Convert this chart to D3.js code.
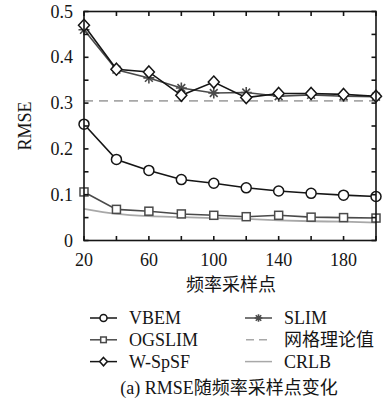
<!DOCTYPE html>
<html>
<head>
<meta charset="utf-8">
<script src="https://cdn.jsdelivr.net/npm/d3@7/dist/d3.min.js"></script>
<style>
  html, body { margin: 0; padding: 0; background: #fff; }
  svg { display: block; }
  .lat { font-family: "Liberation Serif", "DejaVu Serif", serif; }
  .cjk { font-family: "Noto Sans CJK SC", sans-serif; }
</style>
</head>
<body>
<script>
// Sample counts on the x axis
const samples = [20, 40, 60, 80, 100, 120, 140, 160, 180, 200];
const xTickValues = [20, 40, 60, 80, 100, 120, 140, 160, 180, 200];
const xTickLabels = [20, 60, 100, 140, 180];
const yTickValues = [0, 0.05, 0.1, 0.15, 0.2, 0.25, 0.3, 0.35, 0.4, 0.45, 0.5];
const yTickLabels = [0, 0.1, 0.2, 0.3, 0.4, 0.5];

// RMSE per method
const vbem   = [0.254, 0.177, 0.153, 0.133, 0.125, 0.115, 0.108, 0.103, 0.099, 0.096];
const ogslim = [0.106, 0.068, 0.064, 0.058, 0.055, 0.052, 0.055, 0.051, 0.050, 0.049];
const wspsf  = [0.470, 0.374, 0.368, 0.317, 0.346, 0.312, 0.321, 0.321, 0.319, 0.315];
const slim   = [0.460, 0.373, 0.355, 0.333, 0.322, 0.323, 0.315, 0.318, 0.315, 0.314];
const gridTheory = 0.305;
const crlb   = [0.069, 0.058, 0.053, 0.051, 0.049, 0.047, 0.044, 0.042, 0.041, 0.039];

const W = 385, H = 405;
const svg = d3.select("body").append("svg").attr("width", W).attr("height", H);

const pLeft = 84, pRight = 376, pTop = 11.5, pBottom = 240.5;
const x = d3.scaleLinear().domain([20, 200]).range([pLeft, pRight]);
const y = d3.scaleLinear().domain([0, 0.5]).range([pBottom, pTop]);

const black = "#151515";
const dark = "#4a4a4a";
const light = "#a8a8a8";

// Reference lines first (underneath)
svg.append("line")
  .attr("x1", x(20)).attr("x2", x(200))
  .attr("y1", y(gridTheory)).attr("y2", y(gridTheory))
  .attr("stroke", light).attr("stroke-width", 1.8)
  .attr("stroke-dasharray", "9,6");

const line = d3.line().x((d, i) => x(samples[i])).y(d => y(d));

svg.append("path").datum(crlb)
  .attr("d", d3.line().curve(d3.curveMonotoneX).x((d, i) => x(samples[i])).y(d => y(d)))
  .attr("fill", "none").attr("stroke", light).attr("stroke-width", 1.8);

// Marker drawing helper; s scales the marker size
function marker(g, type, cx, cy, color, s = 1) {
  if (type === "circle") {
    g.append("circle").attr("cx", cx).attr("cy", cy).attr("r", 5 * s)
      .attr("fill", "#fff").attr("stroke", color).attr("stroke-width", 1.5);
  } else if (type === "square") {
    g.append("rect").attr("x", cx - 4 * s).attr("y", cy - 4 * s).attr("width", 8 * s).attr("height", 8 * s)
      .attr("fill", "#fff").attr("stroke", color).attr("stroke-width", 1.5);
  } else if (type === "diamond") {
    g.append("path")
      .attr("d", `M${cx},${cy - 6 * s}L${cx + 5.5 * s},${cy}L${cx},${cy + 6 * s}L${cx - 5.5 * s},${cy}Z`)
      .attr("fill", "#fff").attr("stroke", color).attr("stroke-width", 1.5);
  } else if (type === "star") {
    const r = 5.5 * s;
    let d = "";
    for (let k = 0; k < 4; k++) {
      const a = k * Math.PI / 4;
      d += `M${cx - r * Math.cos(a)},${cy - r * Math.sin(a)}L${cx + r * Math.cos(a)},${cy + r * Math.sin(a)}`;
    }
    g.append("path").attr("d", d).attr("stroke", color).attr("stroke-width", 1.6).attr("fill", "none");
  }
}

const series = [
  { name: "OGSLIM", data: ogslim, color: dark, type: "square" },
  { name: "VBEM", data: vbem, color: black, type: "circle" },
  { name: "SLIM", data: slim, color: dark, type: "star" },
  { name: "W-SpSF", data: wspsf, color: black, type: "diamond" }
];

series.forEach(s => {
  const g = svg.append("g");
  g.append("path").datum(s.data).attr("d", line)
    .attr("fill", "none").attr("stroke", s.color).attr("stroke-width", 1.6);
  s.data.forEach((v, i) => marker(g, s.type, x(samples[i]), y(v), s.color));
});

// Frame and inward ticks on all four sides
const frame = svg.append("g").attr("stroke", black).attr("stroke-width", 1.6);
frame.append("rect").attr("x", pLeft).attr("y", pTop)
  .attr("width", pRight - pLeft).attr("height", pBottom - pTop).attr("fill", "none");
const tl = 4.5;
xTickValues.forEach(t => {
  frame.append("line").attr("x1", x(t)).attr("x2", x(t)).attr("y1", pBottom).attr("y2", pBottom - tl);
  frame.append("line").attr("x1", x(t)).attr("x2", x(t)).attr("y1", pTop).attr("y2", pTop + tl);
});
yTickValues.forEach(t => {
  frame.append("line").attr("x1", pLeft).attr("x2", pLeft + tl).attr("y1", y(t)).attr("y2", y(t));
  frame.append("line").attr("x1", pRight).attr("x2", pRight - tl).attr("y1", y(t)).attr("y2", y(t));
});

// Tick labels
svg.append("g").selectAll("text").data(xTickLabels).join("text")
  .attr("class", "lat").attr("x", d => x(d)).attr("y", 266)
  .attr("text-anchor", "middle").attr("font-size", 18).attr("fill", black).text(d => d);
svg.append("g").selectAll("text").data(yTickLabels).join("text")
  .attr("class", "lat").attr("x", 73).attr("y", d => y(d) + 6)
  .attr("text-anchor", "end").attr("font-size", 18).attr("fill", black).text(d => d);

// Axis titles
svg.append("text").attr("class", "cjk").attr("x", 231).attr("y", 291)
  .attr("text-anchor", "middle").attr("font-size", 18).attr("fill", black).text("频率采样点");
svg.append("text").attr("class", "lat")
  .attr("transform", `translate(31,${(pTop + pBottom) / 2}) rotate(-90)`)
  .attr("text-anchor", "middle").attr("font-size", 18).attr("fill", black).text("RMSE");

// Legend
const legendItems = [
  { name: "VBEM", color: black, type: "circle", col: 0, row: 0 },
  { name: "OGSLIM", color: dark, type: "square", col: 0, row: 1 },
  { name: "W-SpSF", color: black, type: "diamond", col: 0, row: 2 },
  { name: "SLIM", color: dark, type: "star", col: 1, row: 0 },
  { name: "网格理论值", color: light, type: "dash", col: 1, row: 1 },
  { name: "CRLB", color: light, type: "plain", col: 1, row: 2 }
];
const lg = svg.append("g");
legendItems.forEach(it => {
  const x0 = it.col === 0 ? 90 : 245;
  const yy = 318 + it.row * 21.8;
  const ln = lg.append("line").attr("x1", x0).attr("x2", x0 + 27).attr("y1", yy).attr("y2", yy)
    .attr("stroke", it.color).attr("stroke-width", 1.5);
  if (it.type === "dash") ln.attr("stroke-dasharray", "8,5").attr("x1", x0 + 1);
  if (it.type !== "dash" && it.type !== "plain") marker(lg, it.type, x0 + 13.5, yy, it.color, 0.7);
  lg.append("text").attr("class", /[A-Z]/.test(it.name) ? "lat" : "cjk")
    .attr("x", x0 + 39).attr("y", yy + 6).attr("font-size", 18).attr("fill", black).text(it.name);
});

// Caption
const cap = svg.append("text").attr("x", 229).attr("y", 394).attr("text-anchor", "middle")
  .attr("font-size", 18).attr("fill", black);
cap.append("tspan").attr("class", "lat").text("(a) RMSE");
cap.append("tspan").attr("class", "cjk").text("随频率采样点变化");
</script>
</body>
</html>
